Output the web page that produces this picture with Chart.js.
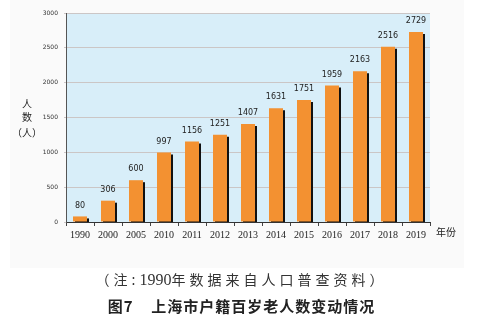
<!DOCTYPE html>
<html>
<head>
<meta charset="utf-8">
<script src="https://cdn.jsdelivr.net/npm/chart.js@4"></script>
<style>
  body { margin: 0; background: #fff; }
  #wrap { position: relative; width: 483px; height: 332px; }
  #panel { position: absolute; left: 10px; top: 0; width: 454px; height: 268px; background: #fafafa; }
  canvas { position: absolute; left: 0; top: 0; }
  .ytitle { position: absolute; font-family: "Noto Sans CJK SC"; color: #222; text-align: center; white-space: nowrap; }
  .note { position: absolute; left: 0; width: 483px; top: 269px; text-align: center;
          font-family: "Noto Sans CJK SC"; font-size: 14px; color: #333; letter-spacing: 4px; }
  .note .num { font-family: "Liberation Serif"; font-size: 16px; letter-spacing: 0; }
  .caption { position: absolute; left: 0; width: 483px; top: 295px; text-align: center;
             font-family: "Noto Sans CJK SC"; font-weight: bold; font-size: 15px; color: #222; letter-spacing: 1px; }
</style>
</head>
<body>
<div id="wrap">
  <div id="panel"></div>
  <canvas id="c" width="483" height="332"></canvas>
  <div class="ytitle" style="left:19px; top:97px; width:16px; font-size:10px; line-height:13px;">人<br>数</div>
  <div class="ytitle" style="left:12px; top:125px; width:30px; font-size:10px;">（人）</div>
  <div class="ytitle" style="left:436px; top:224px; font-size:10px;">年份</div>
  <div class="note">（注:<span class="num">1990</span>年数据来自人口普查资料）</div>
  <div class="caption">图7&nbsp;&nbsp;&nbsp;&nbsp;上海市户籍百岁老人数变动情况</div>
</div>
<script>
    const YEARS = ['1990', '2000', '2005', '2010', '2011', '2012', '2013', '2014', '2015', '2016', '2017', '2018', '2019'];
    const CENTENARIANS = [80, 306, 600, 997, 1156, 1251, 1407, 1631, 1751, 1959, 2163, 2516, 2729];

    // light blue plot background
    const plotBg = {
        id: 'plotBg',
        beforeDraw(chart) {
            const { ctx, chartArea: a } = chart;
            ctx.save();
            ctx.fillStyle = '#d8eef9';
            ctx.fillRect(a.left, a.top, a.right - a.left, a.bottom - a.top);
            ctx.restore();
        }
    };

    // black drop shadow on bars
    const barShadow = {
        id: 'barShadow',
        beforeDatasetDraw(chart) {
            const ctx = chart.ctx;
            ctx.save();
            ctx.shadowColor = '#111';
            ctx.shadowOffsetX = 2;
            ctx.shadowOffsetY = 2;
            ctx.shadowBlur = 0;
        },
        afterDatasetDraw(chart) {
            chart.ctx.restore();
        }
    };

    // value labels above the bars
    const valueLabels = {
        id: 'valueLabels',
        afterDatasetsDraw(chart) {
            const ctx = chart.ctx;
            const meta = chart.getDatasetMeta(0);
            ctx.save();
            ctx.font = '8px "DejaVu Sans"';
            ctx.fillStyle = '#222';
            ctx.textAlign = 'center';
            ctx.textBaseline = 'bottom';
            meta.data.forEach((bar, i) => {
                ctx.fillText(CENTENARIANS[i], bar.x, bar.y - 7);
            });
            ctx.restore();
        }
    };

    new Chart(document.getElementById('c'), {
        type: 'bar',
        data: {
            labels: YEARS,
            datasets: [{
                data: CENTENARIANS,
                backgroundColor: '#f39131',
                borderWidth: 0,
                barPercentage: 0.5,
                categoryPercentage: 1
            }]
        },
        options: {
            responsive: false,
            animation: false,
            layout: { padding: { left: 40, right: 53, top: 13, bottom: 90 } },
            plugins: { legend: { display: false }, tooltip: { enabled: false } },
            scales: {
                x: {
                    afterFit(scale) { scale.height = 20; },
                    grid: { drawOnChartArea: false, drawTicks: true, tickLength: 4, color: '#444', offset: true },
                    border: { color: '#333', width: 1 },
                    ticks: { color: '#222', font: { family: 'Liberation Serif', size: 10 }, padding: 3 }
                },
                y: {
                    min: 0,
                    max: 3000,
                    afterFit(scale) { scale.width = 26; },
                    grid: { color: '#cbc6c6', tickLength: 2, drawTicks: true },
                    border: { color: '#555', width: 1 },
                    ticks: {
                        stepSize: 500,
                        color: '#333',
                        font: { family: 'DejaVu Sans', size: 6 },
                        padding: 6,
                        callback: v => String(v)
                    }
                }
            }
        },
        plugins: [plotBg, barShadow, valueLabels]
    });
</script>
</body>
</html>
